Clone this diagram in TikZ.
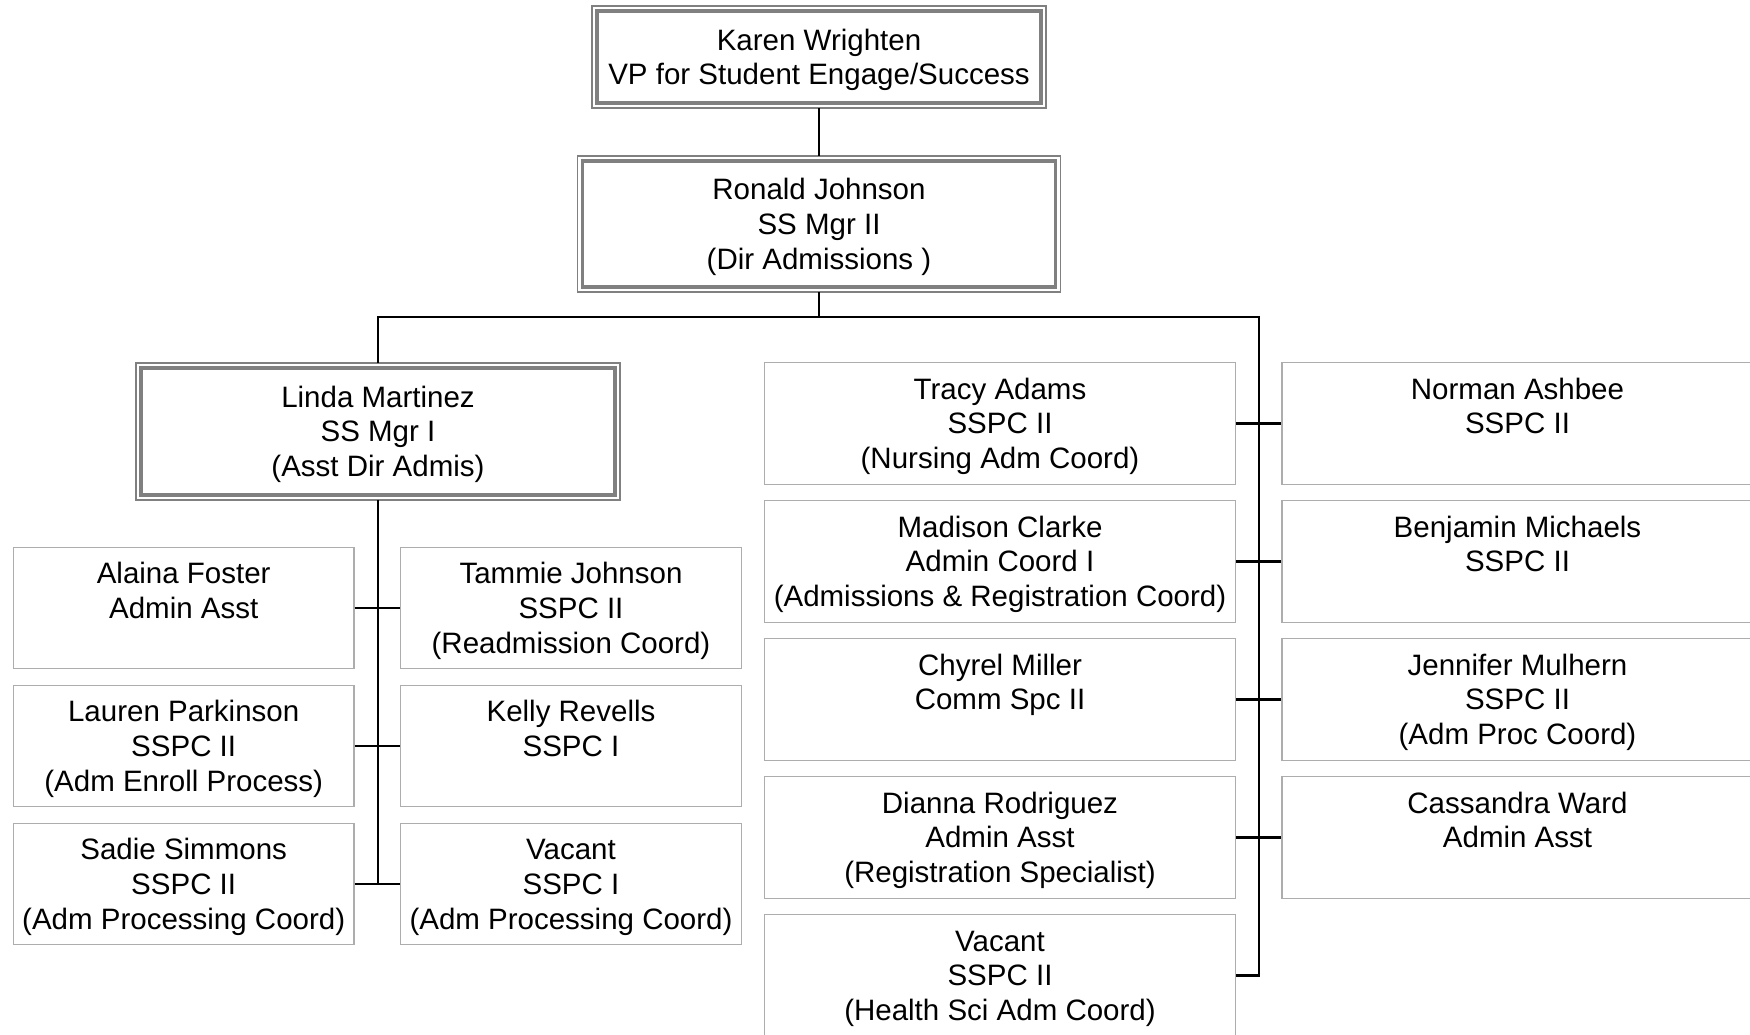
\documentclass[tikz,border=0pt]{standalone}
\usepackage{fontspec}
\setmainfont{Liberation Sans}
\definecolor{boxgray}{gray}{0.68}
\definecolor{framegray}{gray}{0.5}

\begin{document}
\begin{tikzpicture}[x=0.5pt, y=-0.5pt,
  every node/.style={font=\fontsize{14.75}{17.3}\selectfont, align=center, inner sep=0pt,
    text height=48.1pt},
  postbox/.style={draw=boxgray, line width=0.65pt, minimum height=60.75pt},
  staffbox/.style={postbox, minimum width=170.25pt},
  widebox/.style={postbox, minimum width=235.5pt},
  mgr/.style={draw=framegray, line width=1.75pt, outer sep=2.5pt},
  outerframe/.style={draw=framegray, line width=0.6pt},
  link/.style={line width=1.1pt}]
  \useasboundingbox (0,0) rectangle (1750,1034);

  \node[mgr, minimum width=222pt, minimum height=46pt, text height=30.8pt] (kw) at (819,57) {Karen Wrighten\\VP for Student Engage/Success};
  \node[mgr, minimum width=236.5pt, minimum height=63pt] (rj) at (819,224) {Ronald Johnson\\SS Mgr II\\(Dir Admissions )};
  \node[mgr, minimum width=237pt, minimum height=63.5pt] (lm) at (378,431.5) {Linda Martinez\\SS Mgr I\\(Asst Dir Admis)};
  \foreach \n in {kw,rj,lm}
    \draw[outerframe] (\n.north west) rectangle (\n.south east);

  \node[staffbox] (af) at (183.7,608) {Alaina Foster\\Admin Asst\\\vphantom{)}};
  \node[staffbox] (tj) at (571,608) {Tammie Johnson\\SSPC II\\(Readmission Coord)};
  \node[staffbox] (lp) at (183.7,746) {Lauren Parkinson\\SSPC II\\(Adm Enroll Process)};
  \node[staffbox] (kr) at (571,746) {Kelly Revells\\SSPC I\\\vphantom{)}};
  \node[staffbox] (ss) at (183.7,884) {Sadie Simmons\\SSPC II\\(Adm Processing Coord)};
  \node[staffbox] (va) at (571,884) {Vacant\\SSPC I\\(Adm Processing Coord)};

  \node[widebox] (ta) at (1000,423.5) {Tracy Adams\\SSPC II\\(Nursing Adm Coord)};
  \node[widebox] (na) at (1517.5,423.5) {Norman Ashbee\\SSPC II\\\vphantom{)}};
  \node[widebox] (mc) at (1000,561.5) {Madison Clarke\\Admin Coord I\\(Admissions \& Registration Coord)};
  \node[widebox] (bm) at (1517.5,561.5) {Benjamin Michaels\\SSPC II\\\vphantom{)}};
  \node[widebox] (cm) at (1000,699.5) {Chyrel Miller\\Comm Spc II\\\vphantom{)}};
  \node[widebox] (jm) at (1517.5,699.5) {Jennifer Mulhern\\SSPC II\\(Adm Proc Coord)};
  \node[widebox] (dr) at (1000,837.5) {Dianna Rodriguez\\Admin Asst\\(Registration Specialist)};
  \node[widebox] (cw) at (1517.5,837.5) {Cassandra Ward\\Admin Asst\\\vphantom{)}};
  \node[widebox] (vh) at (1000,975.5) {Vacant\\SSPC II\\(Health Sci Adm Coord)};

  \coordinate (bl) at (378,317);
  \coordinate (br) at (1259,317);
  \draw[link] (kw) -- (rj);
  \draw[link] (rj) -- (rj |- bl);
  \draw[link] (lm) |- (br) -- (br |- vh) -- (vh);
  \draw[link] (lm) -- (lm |- ss);
  \draw[link] (af) -- (tj);
  \draw[link] (lp) -- (kr);
  \draw[link] (ss) -- (va);
  \draw[link] (ta) -- (na);
  \draw[link] (mc) -- (bm);
  \draw[link] (cm) -- (jm);
  \draw[link] (dr) -- (cw);
\end{tikzpicture}
\end{document}
